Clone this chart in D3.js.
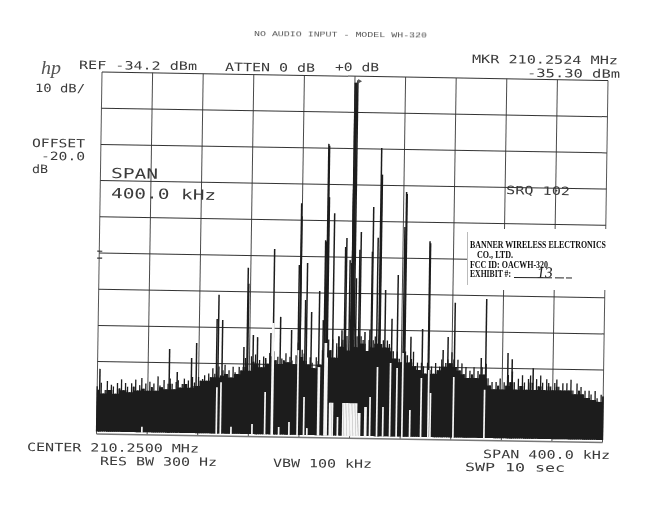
<!DOCTYPE html>
<html><head><meta charset="utf-8">
<script src="https://cdnjs.cloudflare.com/ajax/libs/d3/7.8.5/d3.min.js"></script>
<style>html,body{margin:0;padding:0;background:#fff}svg{display:block}</style>
</head><body><svg id="c" width="650" height="516"></svg>
<script>
// Spectrum analyser sweep: frequency offset from 210.25 MHz in kHz, level in dBm
const refLevel = -34.2, dbPerDiv = 10, divisions = 10, spanKHz = 400, floorDbm = -133.5;
const markerKHz = 2.4, markerDbm = -35.3;
// upper edge of the noise skirt, one reading per sweep sample
const noiseTop = [
-121,-122,-120,-123,-122,-119.5,-122,-120.5,-121,-123,-120,-121.5,-119,-122,-120,-121,-122.5,-120,-121,-119,-122,-120.5,-118.5,-121.5,-120,-122,-119.5,-121,-120,-122,-118,-120.5,-121,-119,-121.5,-120,-118.5,-120,-121.5,-119.5,-119,-121,-120,-118.5,-120,-119,-121,-118,-119.5,-120.5,-118,-119,
-118.5,-117.5,-119,-117,-118,-115.5,-117,-118,-115,-117.5,-116,-114.5,-117,-116,-118,-115,-116.5,-117,-115,-116,
-115,-112.5,-114,-116,-112,-113.5,-111.5,-114,-113,-115,-112,-113,-114,-111,-112,
-110.5,-113,-112,-114,-112.5,-113,-111,-113.5,-112,-113,-114,-111.5,-108,-112,-110,
-111,-113,-114,-112,-113.5,-115,-112,-113,-114,-110,-108,-109,-107,-110,-107,-112,-108,-106,-109,-107,
-108,-106,-110,-108,-107,-109,-106,-108,-106,
-107,-108,-110,-107,-109,-107,-106,-108,-106,-108,-107,-109,-107,-108,-109,-110,-112,-110,-112,-113,-110,
-110,-111,-113,-112,-110,-114,-113,-115,-113,-114,-116,-113,-115,-114,-116,-113,-115,-114,-112,-114,
-113,-112,-113,-110,-112,-114,-112,-115,-113,-116,-114,-117,-115,-116,-114,-117,-115,-116,-114,-116,
-113,-117,-119,-118,-120,-118,-119,-117,-120,-118,
-119,-116,-118,-115,-118,-120,-117,-119,-116,-118,-120,-117,-116,-118,-120,-117,-119,-116,-118,-120,-117,-118,-119,-120,-118,-117,-119,-120,-118,-120,
-118,-120,-117,-120,-121,-118,-120,-119,-121,-120,-122,-120,-121,-122.5,-120,-122,-123,-121,-121.5];
// discrete spurs: [kHz, peak dBm]
const spurs = [
[0.3,-36],[1.0,-36],[1.6,-36],[2.4,-35.3],[0.3,-59.3],[-0.4,-85.8],[-1.6,-85],[3.6,-90],
[-19.8,-53],[-18.7,-67.7],[-19.2,-53.5],[-20.6,-80],[-14.4,-72.1],[-40.6,-69.5],[-40.2,-73.1],[-35.2,-86],[-61.4,-82.3],[-21.2,-79.6],[-25.3,-93.7],
[-4.4,-78.9],[-5.3,-81.4],[6.9,-77.2],[6.0,-82.1],[16.4,-70.2],[15.9,-82.6],[22,-53.9],[22.5,-61.3],[22.9,-61.3],[20.3,-78.7],[26.8,-93.1],
[42.2,-65.9],[41.3,-75.6],[42.7,-66.5],[36.6,-88.9],[-41.7,-86.6],[61.3,-79.4],[61.8,-80],[82,-96.3],[106.8,-95.1],[32.2,-101],[56.5,-103.7],[47.4,-105.9],
[76.8,-105.8],[73,-109.4],[103.2,-111.4],[124.3,-109.9],[127.7,-111.6],[144.4,-114],[-106,-101.9],[-101.6,-102.1],[-104.8,-95.2],
[-143.2,-110.4],[-121.9,-108.6],[-125.7,-112.8],[-198,-116.2],[-82,-87.6],[-81.4,-92],[-77.2,-106.1],[-73.8,-106.7],[-84.5,-109.5],[-55.8,-101],[-47,-104.6],
[-31.4,-99.5],[-36.3,-96.2],[-22.1,-101.7],[-7.2,-104.4],[-9.5,-106.3],[11,-104.8],[14.9,-104.2],[-63.3,-105.5],[-67.2,-112.4],[-136.9,-116.7]];
// dropouts where the trace leaves the paper white: [kHz, top of the dropout dBm]
const dropouts = [
[-164.2,-132],[-105.4,-120.7],[-102.2,-119.3],[-93.8,-131.6],[-77.2,-130.7],[-67.2,-121.8],[-61.9,-102.7],[-61.2,-102.7],[-56.1,-131.4],[-48,-130],[-41.5,-110.1],
[-36.4,-123],[-33.8,-131.6],[-25.3,-114.7],[-24.6,-114.7],[-20.2,-108],[-19.4,-108],[-18.6,-112],[-16,-124.5],[-15,-124.5],[-13.8,-124.5],[-9.7,-128.4],
[-5.5,-124.5],[-4.3,-124.5],[-3.1,-124.5],[-1.9,-124.5],[-0.7,-124.5],[0.4,-124.5],[1.6,-124.5],[2.8,-124.5],[4,-124.5],[5.2,-124.5],
[6.6,-127.2],[7.8,-127.2],[11.9,-125.5],[12.7,-125.5],[15.8,-122.7],[21.3,-114.4],[26.1,-125.4],[31.6,-113.2],[36.8,-114.6],[41.3,-110.4],[47.4,-126.1],[56.1,-117.2],[61.9,-115],[63.5,-121.3],[81.7,-116.8],[106.2,-120.2]];
const thresholdMarks = [-83.7,-85.6];
const gridDivs = d3.range(0, divisions + 1);

const svg = d3.select("#c");
const defs = svg.append("defs");
defs.append("filter").attr("id","scan").attr("x","-5%").attr("y","-5%").attr("width","110%").attr("height","110%")
  .append("feGaussianBlur").attr("stdDeviation",0.3);
const root = svg.append("g").attr("filter","url(#scan)");

const W = 506, H = 362;
const x = d3.scaleLinear().domain([-spanKHz/2, spanKHz/2]).range([0, W]);
const y = d3.scaleLinear().domain([refLevel, refLevel - dbPerDiv*divisions]).range([0, H]);
const sample = d3.scaleLinear().domain([0, noiseTop.length-1]).range([-spanKHz/2, spanKHz/2]);

// the photocopied sheet sits slightly rotated and sheared
const plot = root.append("g").attr("transform","matrix(1,0.0168,-0.0152,1,102,72)");

// grid
const gx = d3.scaleLinear().domain([0, divisions]).range([0, W]);
plot.append("g").selectAll("line").data(gridDivs).join("line")
  .attr("x1",d=>gx(d)).attr("x2",d=>gx(d)).attr("y1",0).attr("y2",H)
  .attr("stroke",d=>(d===0||d===divisions)?"#555":"#4a4a4a").attr("stroke-width",1);
const gy = d3.scaleLinear().domain([0, divisions]).range([0, H]);
plot.append("g").selectAll("line").data(gridDivs).join("line")
  .attr("x1",0).attr("x2",W).attr("y1",d=>gy(d)).attr("y2",d=>gy(d))
  .attr("stroke",d=>d===divisions?"#777":"#333").attr("stroke-width",d=>d===divisions?1.5:1);

// threshold ticks on the left edge
plot.append("g").selectAll("line").data(thresholdMarks).join("line")
  .attr("x1",-2).attr("x2",3).attr("y1",d=>y(d)).attr("y2",d=>y(d)).attr("stroke","#333").attr("stroke-width",1.2);

// noise skirt: a solid body under the lowest neighbouring reading, one stroke per sample above it
const body = noiseTop.map((d,i)=>d3.min([noiseTop[i-1]??d,d,noiseTop[i+1]??d]));
const area = d3.area().x((d,i)=>x(sample(i))).y0(y(floorDbm)).y1(d=>y(d)).curve(d3.curveStep);
plot.append("path").datum(body).attr("d",area).attr("fill","#1d1d1d");
plot.append("g").selectAll("line").data(noiseTop).join("line")
  .attr("x1",(d,i)=>x(sample(i))).attr("x2",(d,i)=>x(sample(i))).attr("y1",d=>y(d)).attr("y2",y(floorDbm))
  .attr("stroke","#1d1d1d").attr("stroke-width",1.3);

// spurs
plot.append("g").selectAll("line").data(spurs).join("line")
  .attr("x1",d=>x(d[0])).attr("x2",d=>x(d[0])).attr("y1",d=>y(d[1])).attr("y2",y(floorDbm))
  .attr("stroke","#1f1f1f").attr("stroke-width",1.5);

// dropouts
plot.append("g").selectAll("line").data(dropouts).join("line")
  .attr("x1",d=>x(d[0])).attr("x2",d=>x(d[0])).attr("y1",d=>y(d[1])).attr("y2",y(floorDbm)+0.5)
  .attr("stroke","#f6f6f6").attr("stroke-width",1.7);

// marker
plot.append("path").attr("d",d3.symbol(d3.symbolTriangle,9)())
  .attr("transform",`translate(${x(markerKHz)+1.5},${y(markerDbm)+1}) rotate(90)`).attr("fill","#555");

// pasted exhibit label
root.append("rect").attr("x",467).attr("y",229).attr("width",145).attr("height",61).attr("fill","#fff");
root.append("line").attr("x1",467.5).attr("x2",467.5).attr("y1",232).attr("y2",285).attr("stroke","#bbb");

function label(t,px,py,w,size,opts={}){
  const s=root.append("text").attr("x",px).attr("y",py).text(t)
    .attr("font-family",opts.font||"'DejaVu Sans Mono',monospace").attr("font-size",size)
    .attr("fill",opts.fill||"#3a3a3a").attr("font-weight",opts.weight||"normal")
    .attr("transform",`rotate(${opts.rot===undefined?0.5:opts.rot} ${px} ${py})`);
  if(opts.style) s.attr("font-style",opts.style);
  if(w) s.attr("textLength",w).attr("lengthAdjust","spacingAndGlyphs");
  return s;
}
label("NO AUDIO INPUT - MODEL WH-320",254,36,173,8,{font:"'Liberation Mono',monospace",fill:"#555"});
label("REF -34.2 dBm",79,69,118,11.5);
label("ATTEN 0 dB",225,71,90,11.5);
label("+0 dB",335,71,44,11.5);
label("MKR 210.2524 MHz",472,63,146,11.5);
label("-35.30 dBm",527,77,93,11.5);
label("10 dB/",35,92,50,11.5);
label("OFFSET",32,147,53,11.5);
label("-20.0",41,160,44,11.5);
label("dB",32,173,16,11.5);
label("SPAN",111,178,47,14,{rot:1});
label("400.0 kHz",111,198,105,14,{rot:1});
label("SRQ 102",506,194,64,11.5,{rot:1});
label("CENTER 210.2500 MHz",27,451,172,11.5);
label("RES BW 300 Hz",100,465,117,11.5);
label("VBW 100 kHz",273,467,99,11.5);
label("SPAN 400.0 kHz",483,458,127,11.5);
label("SWP 10  sec",465,471,100,11.5);

const serif="'Liberation Serif',serif";
label("BANNER WIRELESS ELECTRONICS",470,248,136,9.3,{font:serif,fill:"#111",weight:"bold",rot:0});
label("CO., LTD.",477,258,36,9.3,{font:serif,fill:"#111",weight:"bold",rot:0});
label("FCC ID:  OACWH-320",470,268,78,9.3,{font:serif,fill:"#111",weight:"bold",rot:0});
label("EXHIBIT #:",470,277,41,9.3,{font:serif,fill:"#111",weight:"bold",rot:0});
root.append("line").attr("x1",514).attr("x2",572).attr("y1",277.5).attr("y2",278).attr("stroke","#222").attr("stroke-dasharray","38 3 9 2 6 0");
label("13",537,278,16,15,{font:serif,fill:"#222",style:"italic",rot:-3});

// hp logo
label("hp",41,74,20,18,{font:serif,style:"italic",fill:"#555",rot:0});
</script></body></html>
